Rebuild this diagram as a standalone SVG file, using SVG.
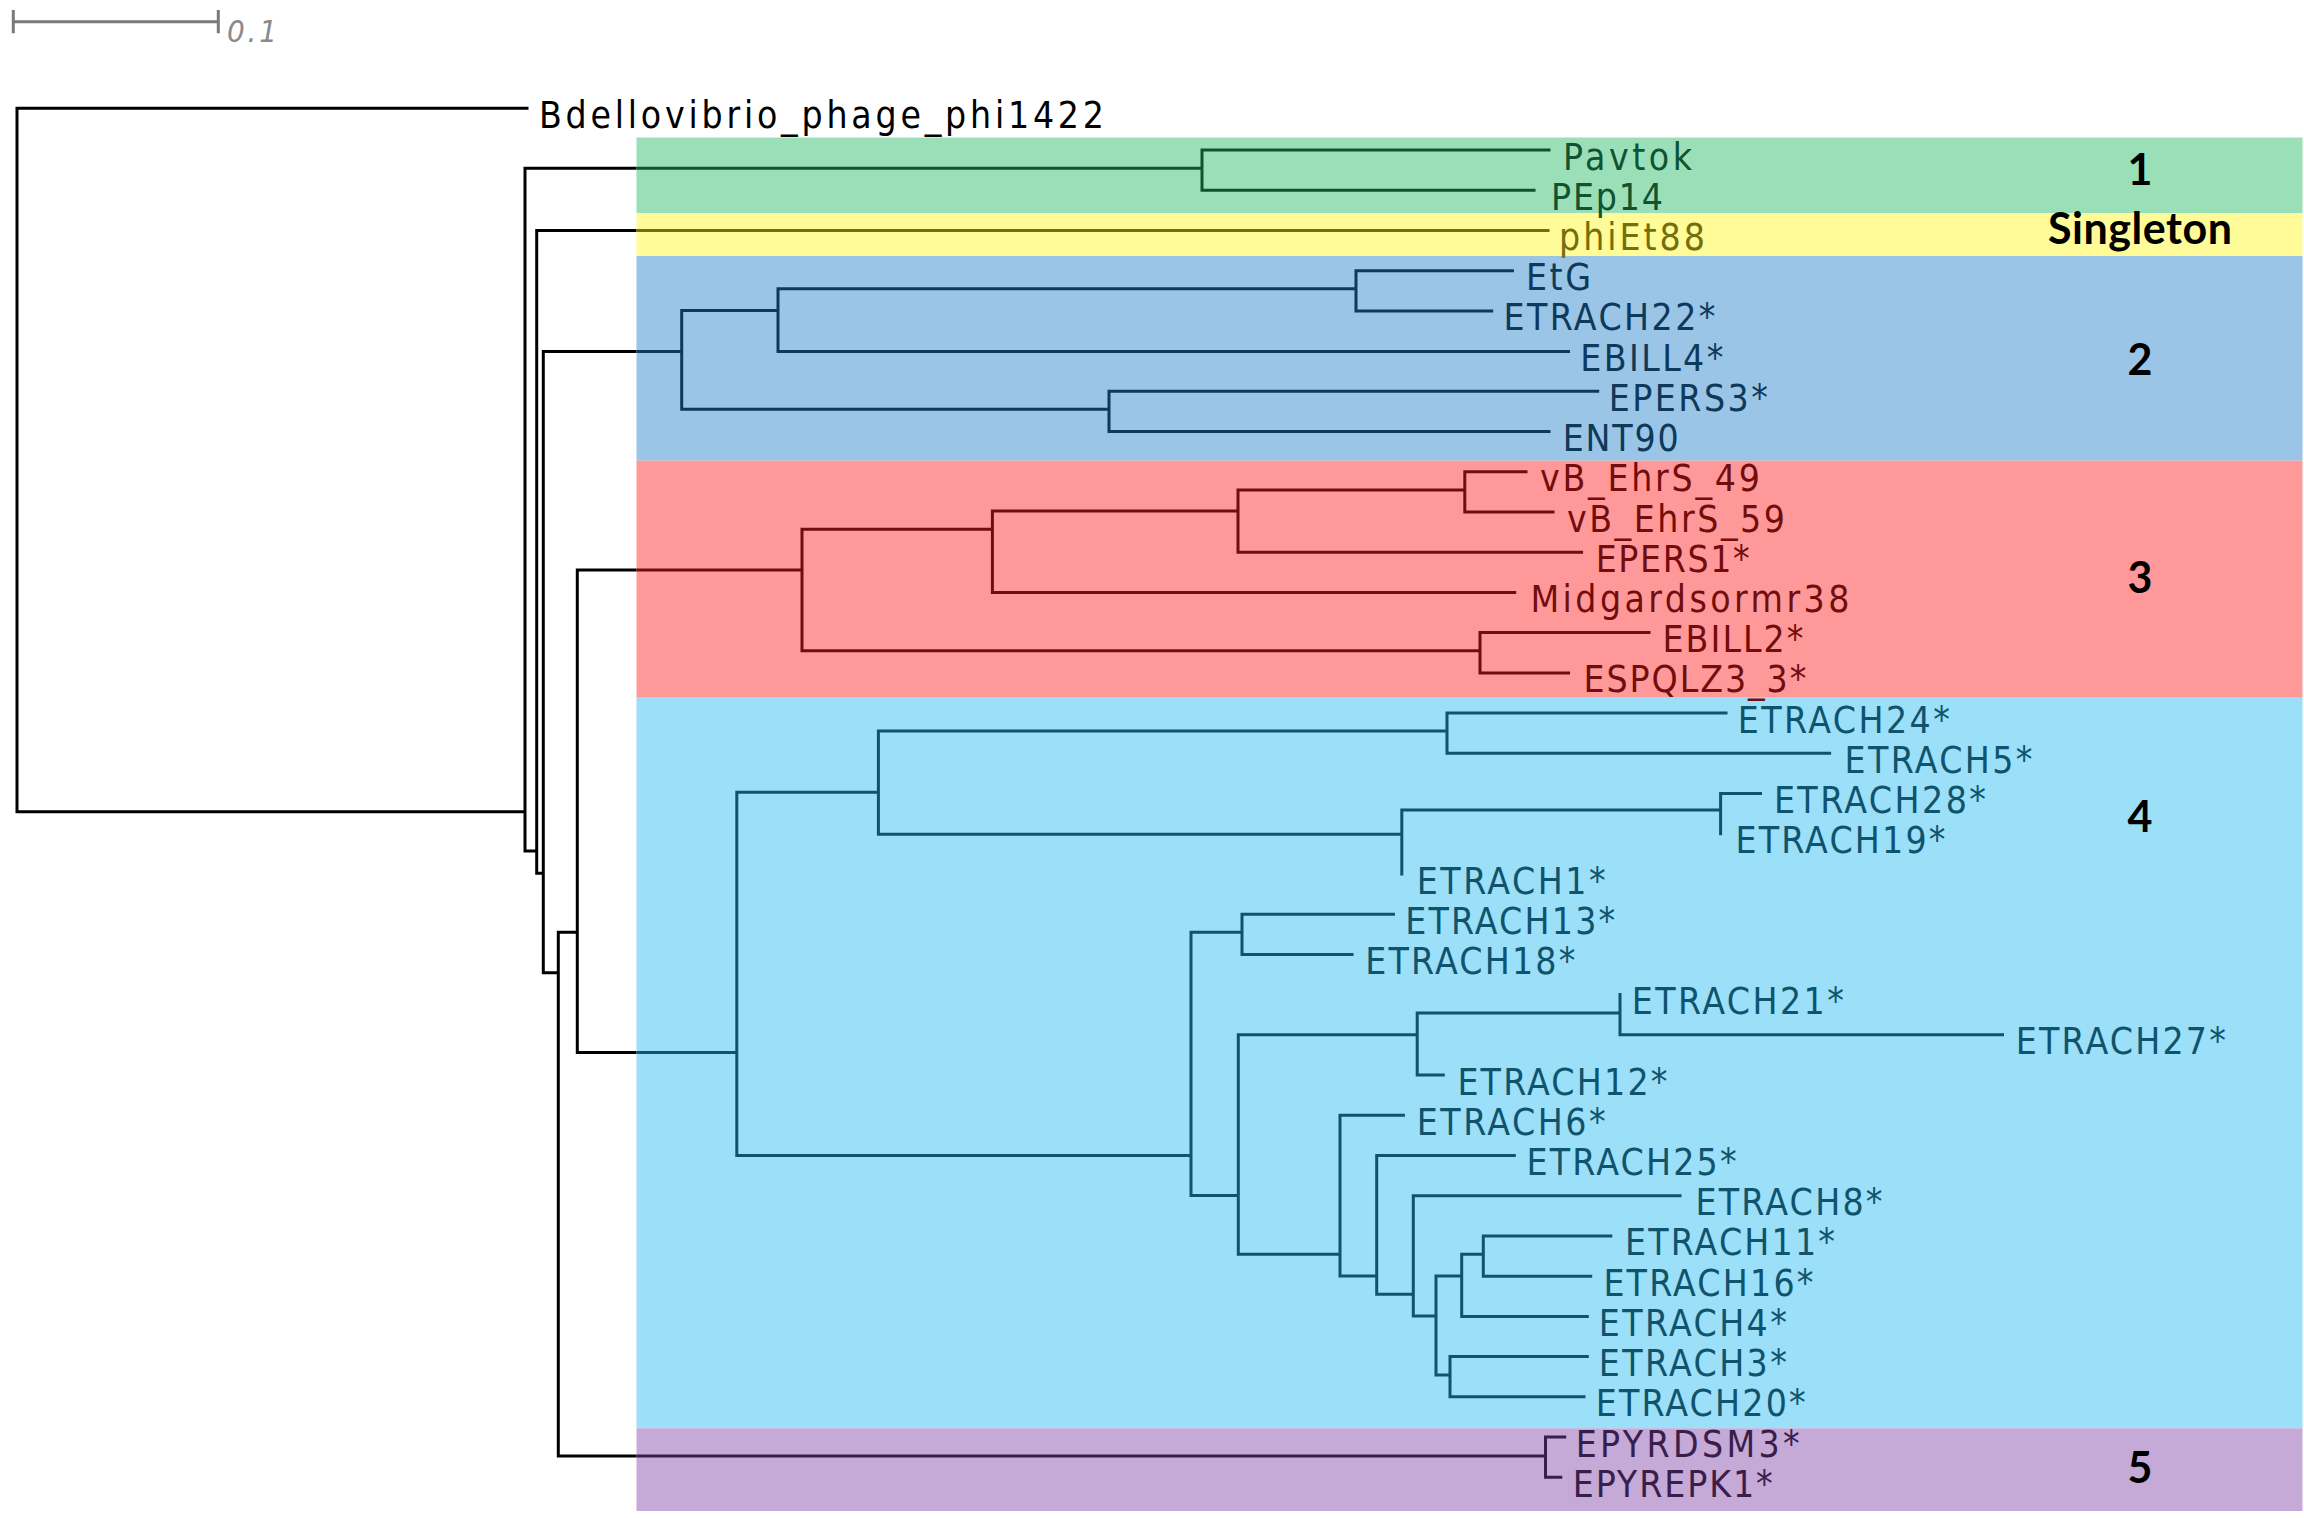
<svg xmlns="http://www.w3.org/2000/svg" width="2304" height="1518" viewBox="0 0 2304 1518">
<style>
.t{font-family:"DejaVu Sans","Liberation Sans",sans-serif;font-stretch:condensed;font-size:37px}
.k{stroke:#000}
.l{fill:none;stroke-width:3;stroke-linecap:square}
.g1{stroke:#0F542F}.gs{stroke:#736F0C}.g2{stroke:#0E395A}.g3{stroke:#730D0D}.g4{stroke:#0F536C}.g5{stroke:#391D4B}
.f1{fill:#0F542F}.fs{fill:#736F0C}.f2{fill:#0E395A}.f3{fill:#730D0D}.f4{fill:#0F536C}.f5{fill:#391D4B}
.cl{font-family:Lato,"Open Sans",sans-serif;font-weight:bold;font-size:43px;fill:#000;text-anchor:middle}
</style>
<rect width="2304" height="1518" fill="#fff"/>
<g id="scale-bar">
<path d="M13.3,21.7 H218.3 M13.3,10 V33.3 M218.3,10 V33.3" fill="none" stroke="#7a7a7a" stroke-width="3"/>
<text x="227" y="41.7" font-family="DejaVu Sans,Liberation Sans,sans-serif" font-stretch="condensed" font-size="31" font-style="italic" fill="#8a8a8a" textLength="50">0.1</text>
</g>
<g id="cluster-1"><rect x="636.5" y="137.5" width="1666" height="75.8" fill="#9BDFB9"/><text class="cl" x="2140" y="185">1</text></g>
<g id="cluster-singleton"><rect x="636.5" y="213.3" width="1666" height="42.7" fill="#FFFB98"/><text class="cl" x="2140" y="244" textLength="184">Singleton</text></g>
<g id="cluster-2"><rect x="636.5" y="256" width="1666" height="204.7" fill="#9AC5E6"/><text class="cl" x="2140" y="375">2</text></g>
<g id="cluster-3"><rect x="636.5" y="460.7" width="1666" height="237" fill="#FF9999"/><text class="cl" x="2140" y="593">3</text></g>
<g id="cluster-4"><rect x="636.5" y="697.7" width="1666" height="730.6" fill="#9BDFF8"/><text class="cl" x="2140" y="832">4</text></g>
<g id="cluster-5"><rect x="636.5" y="1428.3" width="1666" height="82.7" fill="#C5A9D7"/><text class="cl" x="2140" y="1483">5</text></g>
<g id="connectors">
<path class="l k" d="M17,108.3 H527 M17,108.3 V811.7 M17,811.7 H525 M525,168.3 V851 M525,168.3 H635 M525,851 H536.7 M536.7,230.4 V873.3 M536.7,230.4 H635 M536.7,873.3 H543.3 M543.3,351.4 V972.7 M543.3,351.4 H635 M543.3,972.7 H558.3 M558.3,932.3 V1456 M558.3,932.3 H577.3 M558.3,1456 H635 M577.3,570 V1052.5 M577.3,570 H635 M577.3,1052.5 H635"/>
<path class="l g1" d="M638,168.3 H1202 M1202,150 V190.2 M1202,150 H1549 M1202,190.2 H1534"/>
<path class="l gs" d="M638,230.4 H1548"/>
<path class="l g2" d="M638,351.4 H681.7 M681.7,310.5 V409.3 M681.7,310.5 H778 M778,288.7 V351.4 M778,351.4 H1568.5 M778,288.7 H1356 M1356,270.7 V310.9 M1356,270.7 H1512.4 M1356,310.9 H1491.7 M681.7,409.3 H1109 M1109,391.3 V431.5 M1109,391.3 H1597.7 M1109,431.5 H1549"/>
<path class="l g3" d="M638,570 H802 M802,529.3 V650.7 M802,529.3 H992.4 M992.4,511 V592.4 M992.4,511 H1238 M1238,490 V552.2 M1238,490 H1464.8 M1464.8,471.8 V512 M1464.8,471.8 H1526 M1464.8,512 H1553 M1238,552.2 H1581.6 M992.4,592.4 H1514.7 M802,650.7 H1480 M1480,632.6 V672.9 M1480,632.6 H1649 M1480,672.9 H1568.5"/>
<path class="l g4" d="M638,1052.5 H736.8 M736.8,792.3 V1155.5 M736.8,792.3 H878.4 M878.4,731 V834.3 M878.4,731 H1447 M1447,713.1 V753.3 M1447,713.1 H1726 M1447,753.3 H1829.6 M878.4,834.3 H1401.8 M1401.8,810 V874 M1401.8,810 H1720.6 M1720.6,793.5 V833.7 M1720.6,793.5 H1760.5 M736.8,1155.5 H1191 M1191,932.3 V1195.5 M1191,932.3 H1242 M1242,914.2 V954.4 M1242,914.2 H1393.4 M1242,954.4 H1352 M1191,1195.5 H1238.3 M1238.3,1034.8 V1254.3 M1238.3,1034.8 H1417.2 M1417.2,1013 V1075.1 M1417.2,1013 H1620 M1620,994.6 V1034.8 M1620,1034.8 H2002.5 M1417.2,1075.1 H1443.3 M1238.3,1254.3 H1340 M1340,1115.3 V1276 M1340,1115.3 H1403.4 M1340,1276 H1376.7 M1376.7,1155.5 V1294.3 M1376.7,1155.5 H1514.3 M1376.7,1294.3 H1413.3 M1413.3,1195.7 V1316 M1413.3,1195.7 H1680 M1413.3,1316 H1436 M1436,1276 V1375 M1436,1276 H1461.7 M1461.7,1254.3 V1316.4 M1461.7,1254.3 H1483.3 M1483.3,1235.9 V1276.2 M1483.3,1235.9 H1610.8 M1483.3,1276.2 H1590.7 M1461.7,1316.4 H1587.3 M1436,1375 H1450 M1450,1356.6 V1396.8 M1450,1356.6 H1587.3 M1450,1396.8 H1584"/>
<path class="l g5" d="M638,1456 H1545.5 M1545.5,1437 V1477.3 M1545.5,1437 H1564.7 M1545.5,1477.3 H1560.8"/>
</g>
<g id="leaf-Bdellovibrio_phage_phi1422"><text class="t" x="539" y="128.3" textLength="565">Bdellovibrio_phage_phi1422</text></g>
<g id="leaf-Pavtok"><text class="t f1" x="1563" y="169.5" textLength="129">Pavtok</text></g>
<g id="leaf-PEp14"><text class="t f1" x="1551" y="209.7" textLength="112">PEp14</text></g>
<g id="leaf-phiEt88"><text class="t fs" x="1559" y="249.9" textLength="146">phiEt88</text></g>
<g id="leaf-EtG"><text class="t f2" x="1526" y="290.2" textLength="65">EtG</text></g>
<g id="leaf-ETRACH22"><text class="t f2" x="1503.5" y="330.4" textLength="212">ETRACH22*</text></g>
<g id="leaf-EBILL4"><text class="t f2" x="1580.3" y="370.6" textLength="143">EBILL4*</text></g>
<g id="leaf-EPERS3"><text class="t f2" x="1608.8" y="410.8" textLength="159">EPERS3*</text></g>
<g id="leaf-ENT90"><text class="t f2" x="1562.7" y="451" textLength="116">ENT90</text></g>
<g id="leaf-vB_EhrS_49"><text class="t f3" x="1540" y="491.3" textLength="220">vB_EhrS_49</text></g>
<g id="leaf-vB_EhrS_59"><text class="t f3" x="1567" y="531.5" textLength="218">vB_EhrS_59</text></g>
<g id="leaf-EPERS1"><text class="t f3" x="1595.7" y="571.7" textLength="154">EPERS1*</text></g>
<g id="leaf-Midgardsormr38"><text class="t f3" x="1530.4" y="611.9" textLength="319">Midgardsormr38</text></g>
<g id="leaf-EBILL2"><text class="t f3" x="1662.5" y="652.1" textLength="141">EBILL2*</text></g>
<g id="leaf-ESPQLZ3_3"><text class="t f3" x="1583.4" y="692.4" textLength="223">ESPQLZ3_3*</text></g>
<g id="leaf-ETRACH24"><text class="t f4" x="1737.8" y="732.6" textLength="212">ETRACH24*</text></g>
<g id="leaf-ETRACH5"><text class="t f4" x="1844.5" y="772.8" textLength="188">ETRACH5*</text></g>
<g id="leaf-ETRACH28"><text class="t f4" x="1773.9" y="813" textLength="212">ETRACH28*</text></g>
<g id="leaf-ETRACH19"><text class="t f4" x="1735.5" y="853.2" textLength="210">ETRACH19*</text></g>
<g id="leaf-ETRACH1"><text class="t f4" x="1416.7" y="893.5" textLength="189">ETRACH1*</text></g>
<g id="leaf-ETRACH13"><text class="t f4" x="1405.2" y="933.7" textLength="210">ETRACH13*</text></g>
<g id="leaf-ETRACH18"><text class="t f4" x="1365.3" y="973.9" textLength="210">ETRACH18*</text></g>
<g id="leaf-ETRACH21"><text class="t f4" x="1631.8" y="1014.1" textLength="212">ETRACH21*</text></g>
<g id="leaf-ETRACH27"><text class="t f4" x="2015.8" y="1054.3" textLength="210">ETRACH27*</text></g>
<g id="leaf-ETRACH12"><text class="t f4" x="1457.4" y="1094.6" textLength="210">ETRACH12*</text></g>
<g id="leaf-ETRACH6"><text class="t f4" x="1416.7" y="1134.8" textLength="189">ETRACH6*</text></g>
<g id="leaf-ETRACH25"><text class="t f4" x="1526.6" y="1175" textLength="210">ETRACH25*</text></g>
<g id="leaf-ETRACH8"><text class="t f4" x="1695.5" y="1215.2" textLength="187">ETRACH8*</text></g>
<g id="leaf-ETRACH11"><text class="t f4" x="1625" y="1255.4" textLength="210">ETRACH11*</text></g>
<g id="leaf-ETRACH16"><text class="t f4" x="1603.4" y="1295.7" textLength="210">ETRACH16*</text></g>
<g id="leaf-ETRACH4"><text class="t f4" x="1598.8" y="1335.9" textLength="188">ETRACH4*</text></g>
<g id="leaf-ETRACH3"><text class="t f4" x="1598.8" y="1376.1" textLength="188">ETRACH3*</text></g>
<g id="leaf-ETRACH20"><text class="t f4" x="1595.7" y="1416.3" textLength="210">ETRACH20*</text></g>
<g id="leaf-EPYRDSM3"><text class="t f5" x="1575.7" y="1456.5" textLength="224">EPYRDSM3*</text></g>
<g id="leaf-EPYREPK1"><text class="t f5" x="1572.7" y="1496.8" textLength="200">EPYREPK1*</text></g>
</svg>
